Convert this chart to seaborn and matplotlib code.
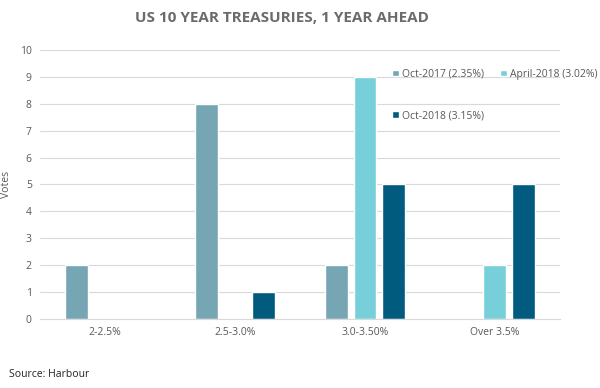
import pandas as pd
import matplotlib.pyplot as plt
import seaborn as sns

# data
categories = ['2-2.5%', '2.5-3.0%', '3.0-3.50%', 'Over 3.5%']
oct_2017 = [2, 8, 2, 0]
apr_2018 = [0, 0, 9, 2]
oct_2018 = [0, 1, 5, 5]
series_names = ['Oct-2017 (2.35%)', 'April-2018 (3.02%)', 'Oct-2018 (3.15%)']
colours = ['#76A5B4', '#77CFDA', '#005B7F']

df = pd.DataFrame({
    'range': categories * 3,
    'votes': oct_2017 + apr_2018 + oct_2018,
    'survey': [s for s in series_names for _ in categories],
})

sns.set_style('white')
plt.rcParams['font.family'] = ['Open Sans', 'DejaVu Sans']

fig = plt.figure(figsize=(6, 3.88), dpi=100)
ax = fig.add_axes([0.067, 0.178, 0.866, 0.693])

sns.barplot(data=df, x='range', y='votes', hue='survey', order=categories,
            hue_order=series_names, palette=colours, width=0.66, gap=0.2,
            saturation=1, ax=ax)

ax.set_ylim(0, 10)
ax.set_yticks(range(0, 11))
ax.set_xlim(-0.5, 3.5)
ax.yaxis.grid(True, color='#D9D9D9', linewidth=0.8)
ax.set_axisbelow(True)
for side in ['top', 'right', 'left']:
    ax.spines[side].set_visible(False)
ax.spines['bottom'].set_color('#D9D9D9')
ax.tick_params(axis='both', length=0, labelsize=7.5, labelcolor='#595959', pad=6)
ax.set_xlabel('')
ax.set_ylabel('Votes', fontsize=7.5, color='#595959', labelpad=6)

# legend filled row by row: Oct-2017, April-2018 on top, Oct-2018 below
handles, labels = ax.get_legend_handles_labels()
order = [0, 2, 1]
ax.legend([handles[i] for i in order], [labels[i] for i in order],
          loc='upper right', bbox_to_anchor=(1.09, 0.965), ncol=2, frameon=False,
          fontsize=7.5, handlelength=0.6, handleheight=0.6, handletextpad=0.3,
          columnspacing=1.6, labelspacing=2.9, labelcolor='#595959')

fig.text(0.47, 0.953, 'US 10 YEAR TREASURIES, 1 YEAR AHEAD', ha='center', va='center',
         fontsize=11, fontweight='bold', color='#6B6B6B')
fig.text(0.015, 0.035, 'Source: Harbour', ha='left', va='center', fontsize=7.5, color='#222222')

fig.savefig('out.png', dpi=100)
